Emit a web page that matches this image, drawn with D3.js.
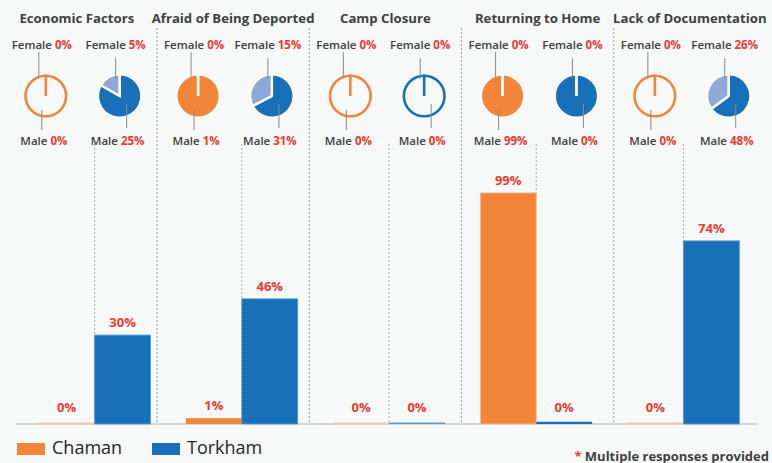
<!DOCTYPE html>
<html>
<head>
<meta charset="utf-8">
<script src="https://cdn.jsdelivr.net/npm/d3@7"></script>
<style>
  html, body { margin: 0; padding: 0; background: #f7f8f8; }
  svg { display: block; font-family: "Open Sans", sans-serif; }
</style>
</head>
<body>
<svg id="chart" width="772" height="463"></svg>
<script>
// ---- data ----
const categories = ["Economic Factors", "Afraid of Being Deported", "Camp Closure", "Returning to Home", "Lack of Documentation"];
const series = ["Chaman", "Torkham"];
const chamanTotal   = [0, 0.01, 0, 0.99, 0];
const torkhamTotal  = [0.30, 0.46, 0, 0.003, 0.74];
const chamanFemale  = [0, 0, 0, 0, 0];
const chamanMale    = [0, 0.01, 0, 0.99, 0];
const torkhamFemale = [0.05, 0.15, 0, 0, 0.26];
const torkhamMale   = [0.25, 0.31, 0, 0.003, 0.48];
const footnote = "Multiple responses provided";

// ---- styles ----
const colors = { Chaman: "#f3853a", Torkham: "#1770b8" };
const femaleColors = { Chaman: "#f8b98c", Torkham: "#8ea9d8" };
const strokeColors = { Chaman: "#f6c6a2", Torkham: "#5b9bd5" };
const red = "#ee3a2f";
const dark = "#404040";
const fmt = d3.format(".0%");

const svg = d3.select("#chart");
svg.append("rect").attr("width", 772).attr("height", 463).attr("fill", "#f7f8f8");

const rows = categories.map((c, i) => ({
  cat: c,
  Chaman: { total: chamanTotal[i], female: chamanFemale[i], male: chamanMale[i] },
  Torkham: { total: torkhamTotal[i], female: torkhamFemale[i], male: torkhamMale[i] }
}));

// ---- scales ----
const baseY = 424;
const xTop = d3.scaleBand().domain(categories).range([4.7, 766]);         // titles & pies
const xPie = d3.scalePoint().domain(series).range([0.27, 0.755]);          // fraction of group
const xBar = d3.scaleBand().domain(categories).range([21, 757]);           // bar groups
const xBarIn = d3.scaleBand().domain(series).range([0, xBar.bandwidth()]).paddingOuter(0.316);
const y = d3.scalePow().exponent(0.8).domain([0, 1]).range([baseY, 191]);

// ---- separators ----
categories.slice(1).forEach(c => {
  svg.append("line")
    .attr("x1", xTop(c)).attr("x2", xTop(c))
    .attr("y1", 28).attr("y2", baseY)
    .attr("stroke", "#9a9a9a").attr("stroke-width", 1).attr("stroke-dasharray", "2,2");
});
categories.forEach(c => {
  const cx = xBar(c) + xBar.bandwidth() / 2;
  svg.append("line")
    .attr("x1", cx).attr("x2", cx)
    .attr("y1", 144).attr("y2", baseY)
    .attr("stroke", "#a8a8a8").attr("stroke-width", 1).attr("stroke-dasharray", "2,2");
});

// ---- baseline ----
svg.append("line").attr("x1", 16).attr("x2", 757).attr("y1", baseY).attr("y2", baseY)
  .attr("stroke", "#d6d6d6").attr("stroke-width", 2);

// ---- titles ----
svg.selectAll("text.title").data(categories).join("text")
  .attr("class", "title")
  .attr("x", (c, i) => xTop(c) + xTop.bandwidth() / 2 + (i === 0 ? -4 : 0))
  .attr("y", 22.5)
  .attr("text-anchor", "middle")
  .attr("font-size", 13.2).attr("font-weight", 700).attr("fill", dark)
  .text(c => c);

// ---- bars ----
const barW = xBarIn.bandwidth();
rows.forEach(r => {
  series.forEach(s => {
    const v = r[s].total;
    const x = xBar(r.cat) + xBarIn(s);
    const top = y(v);
    const h = Math.max(1.5, baseY - top);
    svg.append("rect")
      .attr("x", x).attr("y", baseY - h)
      .attr("width", barW).attr("height", h)
      .attr("fill", v > 0 ? colors[s] : strokeColors[s])
      .attr("stroke", v > 0.02 ? strokeColors[s] : "none")
      .attr("stroke-width", 0.8);
    svg.append("text")
      .attr("x", x + barW / 2)
      .attr("y", Math.min(top, baseY - 4) - 8)
      .attr("text-anchor", "middle")
      .attr("font-size", 13).attr("font-weight", 700).attr("fill", red)
      .text(fmt(v));
  });
});

// ---- pies ----
const R = 21.5, cy = 96;
const arc = d3.arc().innerRadius(0).outerRadius(R);
const pie = d3.pie().sort(null).value(d => d.v);
const off = { Chaman: { f: -7, m: -4 }, Torkham: { f: -4, m: 7 } };
const leadY = { Chaman: { f: [52, 77], m: [110, 130] }, Torkham: { f: [58, 79], m: [104, 128] } };

rows.forEach(r => {
  series.forEach(s => {
    const d = r[s];
    const cx = xTop(r.cat) + xTop.bandwidth() * xPie(s);
    const g = svg.append("g").attr("transform", `translate(${cx},${cy})`);
    const total = d.male + d.female;
    if (total === 0) {
      g.append("circle").attr("r", R - 1.2).attr("fill", "none")
        .attr("stroke", colors[s]).attr("stroke-width", 2.6);
      g.append("line").attr("x1", 0).attr("y1", 0).attr("x2", 0).attr("y2", -R)
        .attr("stroke", colors[s]).attr("stroke-width", 2.6);
    } else {
      const arcs = pie([{ k: "male", v: d.male }, { k: "female", v: d.female }]);
      g.selectAll("path").data(arcs.filter(a => a.data.v > 0)).join("path")
        .attr("d", arc)
        .attr("fill", a => a.data.k === "male" ? colors[s] : femaleColors[s])
        .attr("stroke", "#ffffff").attr("stroke-width", 2);
      arcs.forEach(a => {
        g.append("line").attr("x1", 0).attr("y1", 0)
          .attr("x2", R * Math.sin(a.startAngle)).attr("y2", -R * Math.cos(a.startAngle))
          .attr("stroke", "#ffffff").attr("stroke-width", 2.4);
      });
    }
    // leader lines
    ["f", "m"].forEach(k => {
      svg.append("line")
        .attr("x1", cx + off[s][k]).attr("x2", cx + off[s][k])
        .attr("y1", leadY[s][k][0]).attr("y2", leadY[s][k][1])
        .attr("stroke", "#8a8a8a").attr("stroke-width", 1);
    });
    // labels
    const fl = svg.append("text").attr("x", cx - 4).attr("y", 49)
      .attr("text-anchor", "middle").attr("font-size", 11.5).attr("font-weight", 600).attr("fill", dark);
    fl.append("tspan").text("Female ");
    fl.append("tspan").attr("fill", red).attr("font-weight", 700).text(fmt(d.female));
    const ml = svg.append("text").attr("x", cx - 2).attr("y", 144.5)
      .attr("text-anchor", "middle").attr("font-size", 11.5).attr("font-weight", 600).attr("fill", dark);
    ml.append("tspan").text("Male ");
    ml.append("tspan").attr("fill", red).attr("font-weight", 700).text(fmt(d.male));
  });
});

// ---- legend ----
const legendX = { Chaman: 17, Torkham: 152 };
series.forEach(s => {
  svg.append("rect").attr("x", legendX[s]).attr("y", 443).attr("width", 28).attr("height", 12)
    .attr("fill", colors[s]);
  svg.append("text").attr("x", legendX[s] + 35).attr("y", 453.5)
    .attr("font-size", 18).attr("fill", "#262626").text(s);
});

// ---- footnote ----
const fn = svg.append("text").attr("x", 769).attr("y", 460.5).attr("text-anchor", "end")
  .attr("font-size", 13).attr("font-weight", 700).attr("fill", dark);
fn.append("tspan").attr("fill", red).text("* ");
fn.append("tspan").text(footnote);
</script>
</body>
</html>
